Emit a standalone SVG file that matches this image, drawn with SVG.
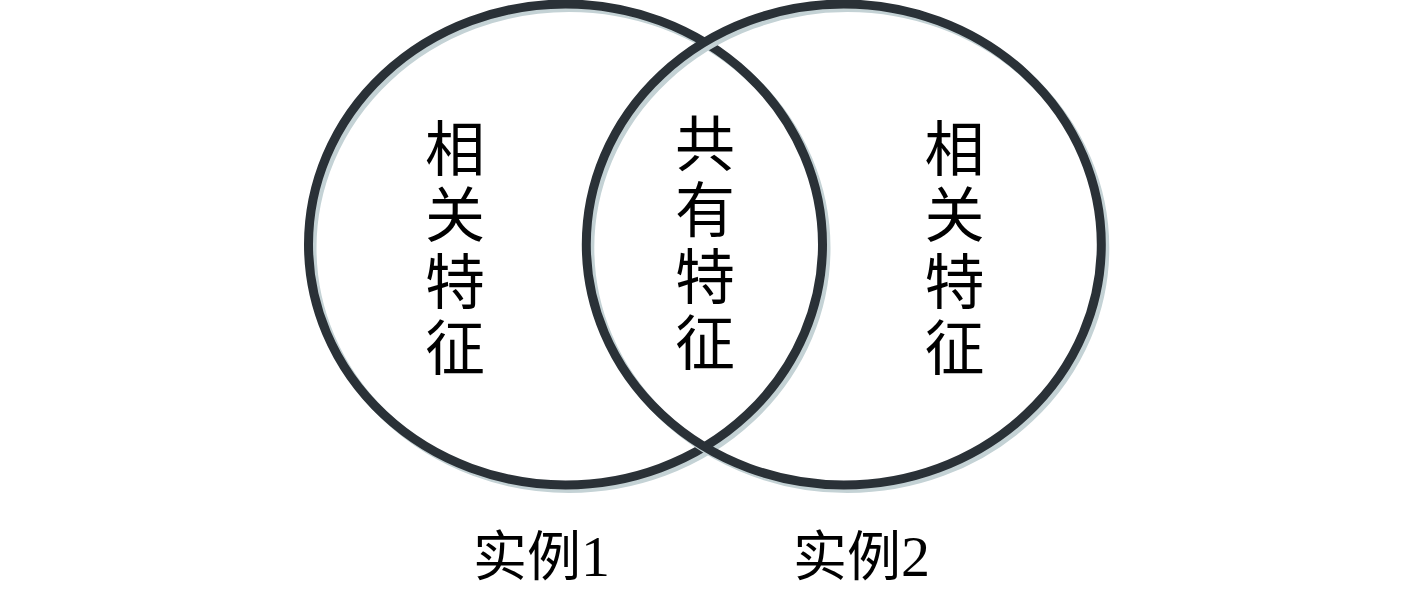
<svg xmlns="http://www.w3.org/2000/svg" width="1417" height="591" viewBox="0 0 1417 591">
<style>
.shadow{fill:none;stroke:#c4d2d5;stroke-width:9}
.ring{fill:none;stroke:#2a3137;stroke-width:9}
.t{font-family:"Noto Sans CJK SC","Noto Sans CJK TC",sans-serif;font-size:60px;fill:#000;writing-mode:vertical-rl;letter-spacing:6.5px}
.lbl{font-family:"Liberation Serif","Noto Sans CJK SC",serif;font-size:54px;fill:#000}
.num{font-size:58px}
</style>
<rect width="1417" height="591" fill="#fff"/>
<g id="instance1">
<ellipse class="shadow" cx="569" cy="248" rx="257" ry="240.5"/>
<ellipse class="ring" cx="565.5" cy="244.5" rx="257" ry="240.5"/>
</g>
<g id="instance2">
<ellipse class="shadow" cx="847.3" cy="248" rx="257.5" ry="240.5"/>
<ellipse class="ring" cx="843.8" cy="244.5" rx="257.5" ry="240.5"/>
</g>
<g id="related1"><text class="t" x="455" y="118">相关特征</text></g>
<g id="shared"><text class="t" x="705" y="113">共有特征</text></g>
<g id="related2"><text class="t" x="954.5" y="118">相关特征</text></g>
<g id="label1"><text class="lbl" x="473" y="576">实例<tspan class="num">1</tspan></text></g>
<g id="label2"><text class="lbl" x="793" y="576">实例<tspan class="num">2</tspan></text></g>
<g id="connectors"></g>
</svg>
